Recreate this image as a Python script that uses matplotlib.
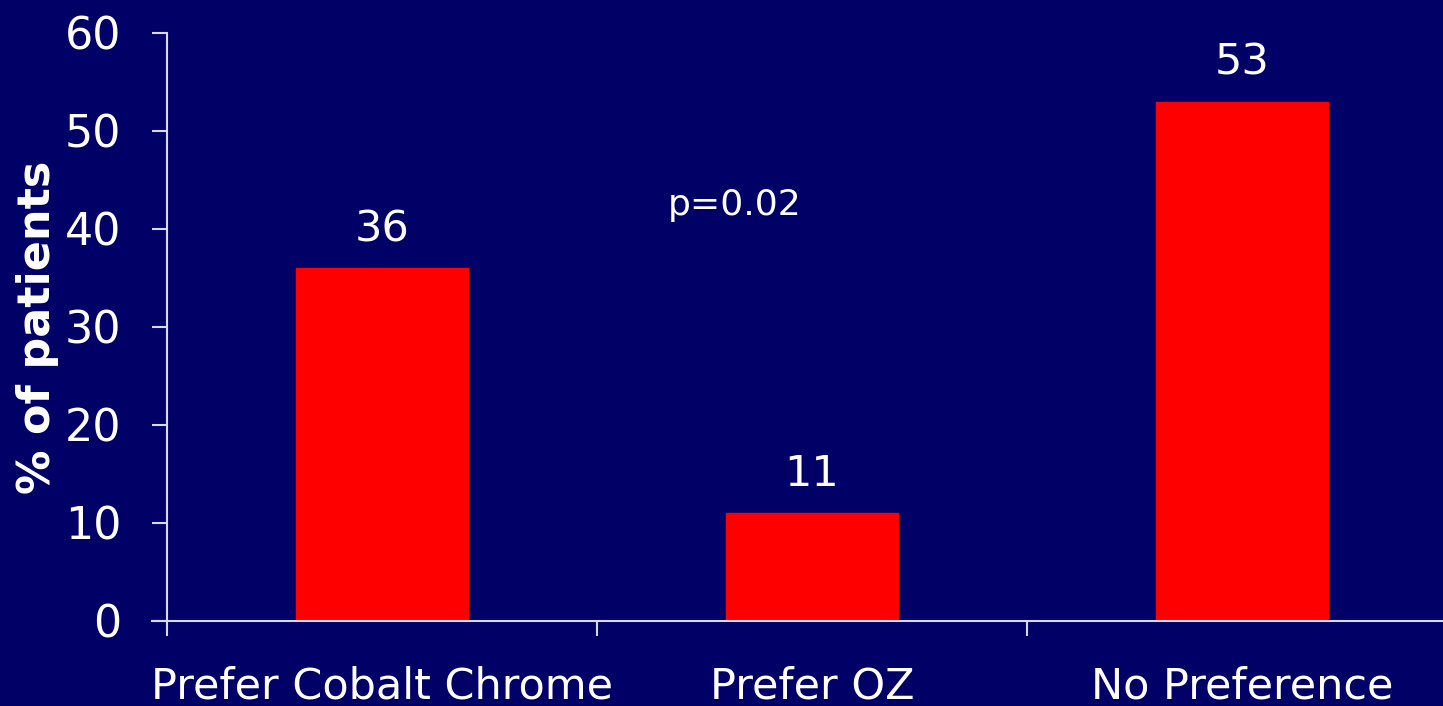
import matplotlib
matplotlib.use("Agg")
import matplotlib.pyplot as plt
import numpy as np

# patient preference survey
categories = ["Prefer Cobalt Chrome", "Prefer OZ", "No Preference"]
percent = [36, 11, 53]
yticks = [0, 10, 20, 30, 40, 50, 60]
p_text = "p=0.02"

bg = "#000066"
fg = "white"
axis_col = "#d8d8f0"

plt.rcParams["font.family"] = ["DejaVu Sans"]

fig = plt.figure(figsize=(14.43, 7.06), dpi=100, facecolor=bg)
ax = fig.add_axes([167 / 1443, 1 - 621 / 706, 1 - 167 / 1443, 588 / 706])
ax.set_facecolor(bg)

x = np.arange(len(categories))
ax.bar(x, percent, width=0.4, color="#ff0000", edgecolor="#ff0000", zorder=2)

for xi, v in zip(x, percent):
    ax.annotate(str(v), (xi, v), xytext=(0, 13), textcoords="offset points",
                ha="center", va="bottom", color=fg, fontsize=31)

ax.text(0.82, 42.4, p_text, ha="center", va="center", color=fg, fontsize=26)

ax.set_ylim(0, 60)
ax.set_yticks(yticks)
ax.set_xlim(-0.5, -0.5 + 1276 / 430)

# category boundaries carry the tick marks, names sit at the centres
ax.set_xticks([-0.5, 0.5, 1.5])
ax.set_xticklabels([])
ax.set_xticks(x, minor=True)
ax.set_xticklabels(categories, minor=True)
ax.tick_params(axis="x", which="minor", length=0, pad=32, labelsize=31, labelcolor=fg)
ax.tick_params(axis="x", which="major", length=11, width=1.5, color=axis_col)
ax.tick_params(axis="y", length=11, width=1.5, color=axis_col, labelsize=32,
               labelcolor=fg, pad=22)

for side in ["top", "right"]:
    ax.spines[side].set_visible(False)
for side in ["left", "bottom"]:
    ax.spines[side].set_color(axis_col)
    ax.spines[side].set_linewidth(1.5)
ax.spines["bottom"].set_bounds(-0.5 - 15 / 430, 2.5)

ax.set_ylabel("% of patients", color=fg, fontsize=32, fontweight="bold", labelpad=4)

fig.savefig("out.png", dpi=100, facecolor=bg)
